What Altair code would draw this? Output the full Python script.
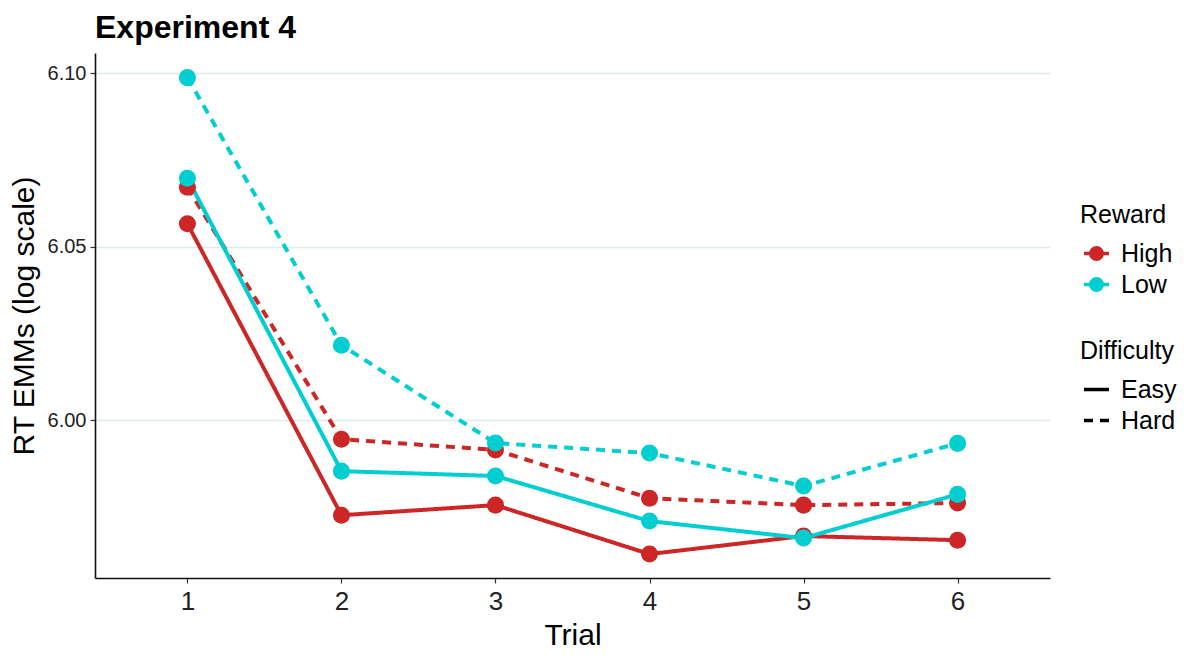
import altair as alt
import pandas as pd

trials = [1, 2, 3, 4, 5, 6]
high_easy = [6.0566, 5.9726, 5.9755, 5.9614, 5.9666, 5.9654]
high_hard = [6.0671, 5.9945, 5.9914, 5.9775, 5.9755, 5.9761]
low_easy = [6.0697, 5.9853, 5.9839, 5.9709, 5.9660, 5.9786]
low_hard = [6.0987, 6.0216, 5.9934, 5.9905, 5.9810, 5.9933]

rewards = ["High", "Low"]
difficulties = ["Easy", "Hard"]
reward_colors = ["#CD2626", "#00CED1"]
y_ticks = [6.00, 6.05, 6.10]

rows = []
for reward, diff, vals in [("High", "Easy", high_easy), ("High", "Hard", high_hard),
                           ("Low", "Easy", low_easy), ("Low", "Hard", low_hard)]:
    for t, v in zip(trials, vals):
        rows.append({"Trial": t, "RT": v, "Reward": reward, "Difficulty": diff})
df = pd.DataFrame(rows)

FONT = "Liberation Sans"

reward_scale = alt.Scale(domain=rewards, range=reward_colors)
dash_scale = alt.Scale(domain=difficulties, range=[[1, 0], [9, 7]])

x_enc = alt.X("Trial:Q",
              scale=alt.Scale(domain=[0.4, 6.6], nice=False, zero=False),
              axis=alt.Axis(values=trials, format="d", title="Trial", grid=False,
                            labelFontSize=26, titleFontSize=30, labelPadding=5,
                            titlePadding=6))
y_enc = alt.Y("RT:Q",
              scale=alt.Scale(domain=[5.9545, 6.1058], nice=False, zero=False),
              axis=alt.Axis(values=y_ticks, format=".2f", title="RT EMMs (log scale)",
                            grid=True, gridColor="#dfeaea", gridWidth=1.3,
                            labelFontSize=20, titleFontSize=30, labelPadding=4,
                            titlePadding=8))

reward_symbol = "M-1,0L1,0M0.46,0A0.46,0.46,0,1,1,-0.46,0A0.46,0.46,0,1,1,0.46,0Z"

reward_legend = alt.Legend(title="Reward", orient="none", legendX=985, legendY=150,
                           symbolType=reward_symbol, symbolSize=625, symbolStrokeWidth=3.5,
                           symbolOffset=2, labelOffset=10, rowPadding=3, titlePadding=11)
diff_legend = alt.Legend(title="Difficulty", orient="none", legendX=985, legendY=286,
                         symbolType="stroke", symbolSize=625, symbolStrokeWidth=3.5,
                         symbolStrokeColor="black", symbolOffset=2, labelOffset=10,
                         rowPadding=3, titlePadding=11)

lines = alt.Chart(df).mark_line(strokeWidth=4).encode(
    x=x_enc, y=y_enc,
    stroke=alt.Stroke("Reward:N", scale=reward_scale, legend=reward_legend),
    strokeDash=alt.StrokeDash("Difficulty:N", scale=dash_scale, legend=diff_legend),
)

points = alt.Chart(df).mark_point(filled=True, shape="circle", size=290, opacity=1,
                                  strokeWidth=0).encode(
    x=x_enc, y=y_enc,
    fill=alt.Fill("Reward:N", scale=reward_scale, legend=reward_legend),
    stroke=alt.Stroke("Reward:N", scale=reward_scale, legend=reward_legend),
)

chart = alt.layer(lines, points).properties(
    width=955, height=525,
    title=alt.Title("Experiment 4", anchor="start", frame="group", fontSize=32,
                    fontWeight="bold", font=FONT, color="black", offset=8),
    autosize=alt.AutoSizeParams(type="none"),
    padding={"left": 87, "top": 45, "right": 130, "bottom": 80},
).configure_view(stroke=None).configure_axis(
    labelFont=FONT, titleFont=FONT, labelColor="#222", titleColor="black",
    titleFontWeight="normal", domainColor="#111", domainWidth=1.6,
    tickColor="#333", tickSize=5, tickWidth=1.2,
).configure_legend(
    labelFont=FONT, titleFont=FONT, labelFontSize=25, titleFontSize=25,
    titleFontWeight="normal", labelColor="black", titleColor="black",
)

chart.save("out.html", embed_options={"renderer": "svg", "actions": False})
